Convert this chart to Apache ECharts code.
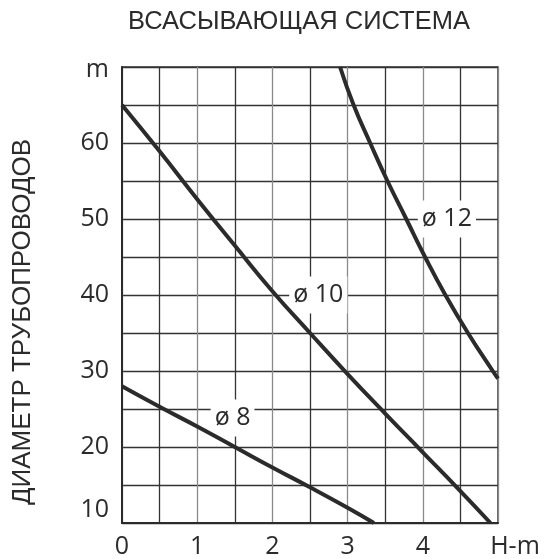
<!DOCTYPE html>
<html>
<head>
<meta charset="utf-8">
<script src="https://cdn.jsdelivr.net/npm/echarts@6/dist/echarts.min.js"></script>
<style>
  html, body { margin: 0; padding: 0; background: #fff; }
  #chart { width: 544px; height: 559px; }
</style>
</head>
<body>
<div id="chart"></div>
<script>
// curves: [H (m), diameter-length (m)]
const pipe8 = [[0, 28], [0.5, 25.3], [1, 22.7], [1.5, 20], [2, 17.3], [2.5, 14.7], [3, 12], [3.35, 10]];
const pipe10 = [[0, 65], [0.5, 58.9], [1, 52.6], [1.5, 46.5], [2, 40.5], [2.5, 35], [3, 29.6], [3.5, 24.4], [4, 19.3], [4.5, 14.2], [4.9, 10]];
const pipe12 = [[2.9, 70], [3.08, 65], [3.3, 60], [3.53, 55], [3.78, 50], [4.03, 45], [4.3, 40], [4.6, 35], [4.93, 30], [5, 29]];
const curveNames = ['ø 8', 'ø 10', 'ø 12'];
const labelSpots = [[1.47, 23.8], [2.61, 40], [4.32, 50]];
const xTickLabels = { 0: '0', 1: '1', 2: '2', 3: '3', 4: '4', 5: 'H-m' };
const yTickLabels = { 10: '10', 20: '20', 30: '30', 40: '40', 50: '50', 60: '60', 70: 'm' };

const chart = echarts.init(document.getElementById('chart'));
const ink = '#2b2b2b';
const font = '"Open Sans", sans-serif';

function lineSeries(data) {
  return {
    type: 'line',
    data: data,
    smooth: true,
    symbol: 'none',
    z: 5,
    lineStyle: { color: ink, width: 4 }
  };
}

let option = {
  animation: false,
  title: {
    text: 'ВСАСЫВАЮЩАЯ СИСТЕМА',
    left: 128,
    top: 9,
    padding: 0,
    textStyle: { fontFamily: '"Liberation Sans", Arial, sans-serif', fontSize: 25.5, fontWeight: 'normal', color: ink }
  },
  graphic: [{
    type: 'text',
    x: 10,
    y: 322,
    rotation: Math.PI / 2,
    style: {
      text: 'ДИАМЕТР ТРУБОПРОВОДОВ',
      font: '26px "Liberation Sans", Arial, sans-serif',
      fill: ink,
      align: 'center',
      verticalAlign: 'top'
    }
  }],
  grid: {
    left: 122,
    right: 46,
    top: 67,
    bottom: 35,
    show: true,
    borderColor: '#333',
    borderWidth: 1.5
  },
  xAxis: {
    type: 'value',
    min: 0,
    max: 5,
    interval: 0.5,
    axisLine: { show: true, lineStyle: { color: ink, width: 2 } },
    axisTick: { show: false },
    splitLine: { lineStyle: { color: ['#8a8a8a', '#333'], width: 1.3 } },
    axisLabel: {
      margin: 11,
      fontFamily: font,
      fontSize: 25,
      color: ink,
      formatter: v => {
        if (v === 5) return '{hm|H-m}';
        return xTickLabels[v] !== undefined ? xTickLabels[v] : '';
      },
      rich: { hm: { fontFamily: font, fontSize: 25, color: ink, padding: [0, 0, 0, 34] } }
    }
  },
  yAxis: {
    type: 'value',
    min: 10,
    max: 70,
    interval: 5,
    axisLine: { show: true, lineStyle: { color: ink, width: 2 } },
    axisTick: { show: false },
    splitLine: { lineStyle: { color: '#333', width: 1.3 } },
    axisLabel: {
      margin: 13,
      fontFamily: font,
      fontSize: 25,
      color: ink,
      formatter: v => {
        if (v === 10) return '{lo|10}';
        if (v === 70) return '{hi|m}';
        return yTickLabels[v] !== undefined ? yTickLabels[v] : '';
      },
      rich: {
        lo: { fontFamily: font, fontSize: 25, color: ink, padding: [0, 0, 26, 0] },
        hi: { fontFamily: font, fontSize: 25, color: ink, padding: [6, 0, 0, 0] }
      }
    }
  },
  series: [
    lineSeries(pipe8),
    lineSeries(pipe10),
    lineSeries(pipe12),
    {
      type: 'scatter',
      z: 2,
      symbolSize: 2,
      itemStyle: { color: 'rgba(0,0,0,0)', opacity: 1 },
      data: labelSpots.map((p, i) => ({ value: p, name: curveNames[i] })),
      label: {
        show: true,
        position: 'inside',
        formatter: p => p.name,
        fontFamily: font,
        fontSize: 25,
        color: ink,
        opacity: 1,
        backgroundColor: '#fff',
        padding: [6, 4]
      }
    }
  ]
};
chart.setOption(option);
</script>
</body>
</html>
